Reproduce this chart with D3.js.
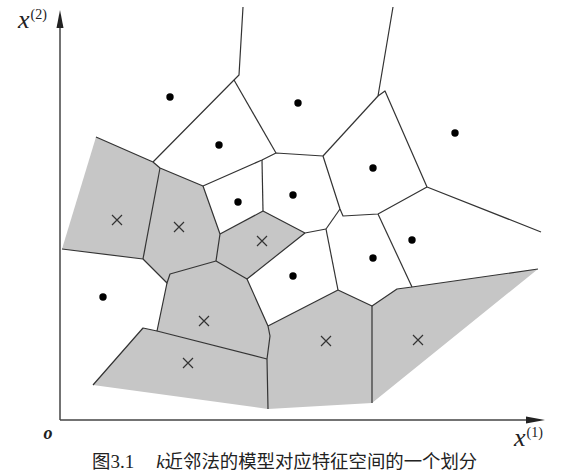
<!DOCTYPE html>
<html>
<head>
<meta charset="utf-8">
<script src="https://cdn.jsdelivr.net/npm/d3@7"></script>
<style>
  html, body { margin: 0; padding: 0; background: #fff; }
  svg { display: block; }
</style>
</head>
<body>
<svg id="chart" width="578" height="474"></svg>
<script>
// ---------- data (feature-space units) ----------
const xDomain = [0, 98];
const yDomain = [0, 83];

// training points of the positive class (dots)
const dots = [
  [22.0, 64.6], [47.6, 63.4], [79.0, 57.4], [31.8, 55.0], [62.6, 50.4],
  [46.6, 45.0], [35.6, 43.6], [70.4, 36.0], [62.6, 32.4], [46.6, 28.8],
  [8.6, 24.6]
];

// training points of the negative class (crosses)
const crosses = [
  [11.4, 40.0], [23.8, 38.6], [40.4, 35.8], [28.8, 19.8],
  [25.6, 11.4], [53.2, 15.8], [71.6, 16.0]
];

// vertices of the partition (cell boundary points)
const vertices = [
  [36.6, 82.6], [35.8, 69.0], [34.8, 68.0], [18.6, 51.6], [7.2, 56.6],
  [20.0, 50.4], [28.6, 46.8], [40.4, 52.0], [43.2, 53.4], [52.6, 52.8],
  [63.6, 64.8], [65.0, 65.8], [66.6, 82.6], [73.4, 46.6], [96.2, 37.6],
  [56.0, 42.2], [56.6, 40.8], [63.6, 41.2], [40.6, 41.8], [32.0, 37.2],
  [49.0, 37.4], [53.2, 38.2], [37.4, 28.2], [31.2, 31.8], [22.0, 29.2],
  [21.4, 27.4], [16.6, 32.2], [0.4, 34.2], [19.4, 17.8], [16.6, 18.4],
  [6.6, 7.0], [41.6, 2.2], [41.4, 12.2], [42.0, 16.8], [41.6, 18.8],
  [55.6, 26.0], [62.4, 22.8], [67.4, 26.2], [70.4, 26.6], [95.6, 30.2],
  [62.4, 3.4]
];

// cells belonging to the cross class (filled grey), as vertex index lists
const crossCells = [
  [4, 3, 5, 26, 27],
  [5, 6, 19, 23, 24, 25, 26],
  [18, 20, 22, 23, 19],
  [24, 23, 22, 34, 33, 32, 28, 25],
  [29, 28, 32, 31, 30],
  [32, 33, 34, 35, 36, 40, 31],
  [36, 37, 38, 39, 40]
];

// cell boundaries, as vertex index polylines
const edges = [
  [0, 1, 2, 3], [2, 8],
  [4, 3, 5, 6, 7, 8, 9],
  [12, 10, 11, 13, 14], [10, 9],
  [9, 15, 16, 17, 13], [17, 38], [15, 21],
  [7, 18], [18, 19], [6, 19, 23], [18, 20, 21], [20, 22, 23],
  [21, 35], [35, 34], [35, 36, 37, 38, 39], [36, 40],
  [23, 24, 25, 26, 27], [5, 26],
  [25, 28, 29, 30], [28, 32], [22, 34, 33, 32, 31]
];

const caption = { fig: "图3.1", k: "k", rest: "近邻法的模型对应特征空间的一个划分" };
const axisLabels = { x: ["x", "(1)"], y: ["x", "(2)"], origin: "o" };

// ---------- drawing ----------
const svg = d3.select("#chart");
const x = d3.scaleLinear().domain(xDomain).range([60, 550]);
const y = d3.scaleLinear().domain(yDomain).range([420, 5]);
const line = d3.line().x(d => x(d[0])).y(d => y(d[1]));
const strokeCol = "#333";

// grey cells
svg.append("g").selectAll("path")
  .data(crossCells)
  .join("path")
  .attr("d", c => line(c.map(i => vertices[i])) + "Z")
  .attr("fill", "#c6c6c6")
  .attr("stroke", "none");

// boundaries
svg.append("g").selectAll("path")
  .data(edges)
  .join("path")
  .attr("d", e => line(e.map(i => vertices[i])))
  .attr("fill", "none")
  .attr("stroke", strokeCol)
  .attr("stroke-width", 1.2)
  .attr("stroke-linejoin", "round");

// axes
const ax = svg.append("g");
const x0 = x(0), y0 = y(0);
const xTip = x(97), yTip = y(82);
ax.append("line").attr("x1", x0).attr("y1", y0).attr("x2", xTip - 6).attr("y2", y0)
  .attr("stroke", "#444").attr("stroke-width", 1.5);
ax.append("line").attr("x1", x0).attr("y1", y0).attr("x2", x0).attr("y2", yTip + 6)
  .attr("stroke", "#444").attr("stroke-width", 1.5);
ax.append("path")
  .attr("d", `M${xTip},${y0} L${xTip - 19},${y0 - 3.5} L${xTip - 19},${y0 + 3.5} Z`)
  .attr("fill", "#222");
ax.append("path")
  .attr("d", `M${x0},${yTip} L${x0 - 3.5},${yTip + 18} L${x0 + 3.5},${yTip + 18} Z`)
  .attr("fill", "#222");

// dots
svg.append("g").selectAll("circle")
  .data(dots)
  .join("circle")
  .attr("cx", d => x(d[0]))
  .attr("cy", d => y(d[1]))
  .attr("r", 3.7)
  .attr("fill", "#000");

// crosses
const cs = 5;
svg.append("g").selectAll("path")
  .data(crosses)
  .join("path")
  .attr("d", d => {
    const cx = x(d[0]), cy = y(d[1]);
    return `M${cx - cs},${cy - cs}L${cx + cs},${cy + cs}M${cx - cs},${cy + cs}L${cx + cs},${cy - cs}`;
  })
  .attr("stroke", "#333")
  .attr("stroke-width", 1.2)
  .attr("fill", "none");

// labels
const serif = "'Liberation Serif', 'DejaVu Serif', serif";
function axisLabel(lbl, px, py) {
  const t = svg.append("text").attr("x", px).attr("y", py)
    .attr("font-family", serif).attr("fill", "#222");
  t.append("tspan").attr("font-style", "italic").attr("font-size", 26).text(lbl[0]);
  t.append("tspan").attr("font-size", 14).attr("dy", -9).attr("dx", 1).text(lbl[1]);
}
axisLabel(axisLabels.y, 18, 28);
axisLabel(axisLabels.x, 514, 446);

svg.append("text").attr("x", 48).attr("y", 439)
  .attr("text-anchor", "middle")
  .attr("font-family", serif).attr("font-style", "italic").attr("font-weight", "bold")
  .attr("font-size", 18).attr("fill", "#222")
  .text(axisLabels.origin);

const cap = svg.append("text").attr("x", 92).attr("y", 468)
  .attr("font-size", 18.4).attr("fill", "#222")
  .attr("font-family", "'Noto Sans CJK SC', sans-serif");
cap.append("tspan").text(caption.fig.slice(0, 1));
cap.append("tspan").attr("font-family", serif).attr("font-size", 19).text(caption.fig.slice(1));
cap.append("tspan").attr("dx", 22).attr("font-family", serif).attr("font-style", "italic").attr("font-size", 19).text(caption.k);
cap.append("tspan").text(caption.rest);
</script>
</body>
</html>
